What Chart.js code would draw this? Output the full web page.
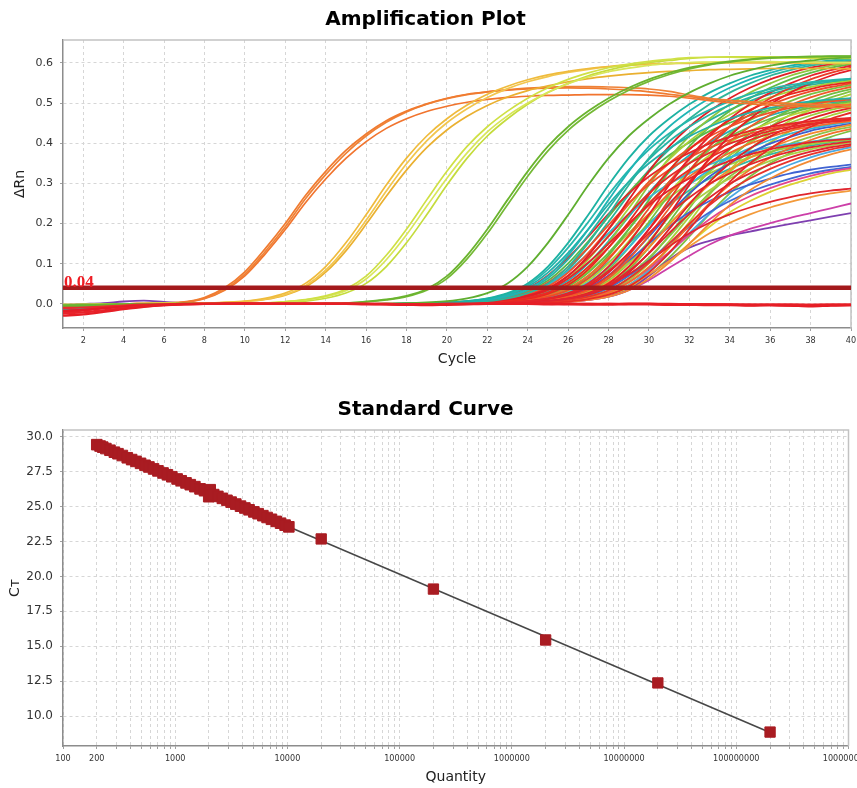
<!DOCTYPE html>
<html>
<head>
<meta charset="utf-8">
<title>Amplification Plot / Standard Curve</title>
<script src="https://cdn.jsdelivr.net/npm/chart.js@4.4.1/dist/chart.umd.min.js"></script>
<style>
  html, body { margin: 0; padding: 0; background: #ffffff; }
  #page { position: relative; width: 857px; height: 788px; overflow: hidden; background: #ffffff; }
  canvas { position: absolute; left: 0; }
  #amp { top: 0; }
  #std { top: 380px; }
</style>
</head>
<body>
<div id="page">
  <canvas id="amp" width="857" height="380"></canvas>
  <canvas id="std" width="857" height="408"></canvas>
</div>
<script>
// ================= Amplification plot =================
const CYCLES = [1,2,3,4,5,6,7,8,9,10,11,12,13,14,15,16,17,18,19,20,21,22,23,24,25,26,27,28,29,30,31,32,33,34,35,36,37,38,39,40];
const CYCLE_TICKS = [2,4,6,8,10,12,14,16,18,20,22,24,26,28,30,32,34,36,38,40];
const DRN_TICKS = [0,0.1,0.2,0.3,0.4,0.5,0.6];
const THRESHOLD = 0.04;

// Standards (delta Rn per cycle)
const ORANGE_A = [-.004,-.004,-.002,0,.001,.002,.005,.016,.040,.080, .137,.200,.270,.330,.382,.423,.456,.480,.498,.512, .522,.528,.532,.535,.537,.538,.537,.535,.532,.528, .522,.516,.510,.506,.503,.500,.498,.496,.495,.494];
const ORANGE_B = [-.003,-.003,-.002,0,.001,.002,.004,.014,.036,.074, .130,.192,.262,.322,.375,.418,.452,.478,.497,.511, .521,.528,.533,.537,.540,.541,.541,.540,.538,.535, .529,.520,.512,.507,.503,.501,.499,.497,.496,.495];
const ORANGE_C = [-.005,-.004,-.002,0,.001,.002,.004,.013,.034,.070, .124,.185,.252,.311,.362,.404,.437,.461,.479,.492, .502,.509,.514,.517,.519,.520,.521,.521,.521,.520, .517,.512,.506,.501,.498,.495,.493,.491,.490,.489];
const GOLD_A = [-.003,-.003,-.002,0,.001,.001,.001,.002,.004,.007, .014,.027,.051,.093,.152,.222,.296,.363,.418,.461, .495,.522,.542,.558,.570,.579,.586,.591,.595,.597, .598,.599,.600,.600,.600,.600,.600,.599,.599,.599];
const GOLD_B = [-.002,-.002,-.001,0,.001,.001,.001,.002,.003,.006, .012,.023,.045,.084,.140,.208,.281,.349,.406,.451, .486,.514,.536,.553,.566,.576,.584,.590,.594,.597, .599,.600,.601,.602,.602,.602,.602,.602,.601,.601];
const GOLD_C = [-.004,-.003,-.002,0,0,.001,.001,.002,.003,.006, .011,.022,.042,.079,.132,.198,.268,.333,.389,.433, .467,.494,.515,.531,.543,.553,.561,.567,.572,.576, .579,.581,.583,.584,.585,.586,.586,.586,.586,.585];
const LIME_A = [-.002,-.002,-.001,0,0,.001,.001,0,.001,.001, .002,.006,.011,.020,.037,.069,.121,.186,.259,.330, .392,.441,.480,.512,.538,.559,.575,.588,.597,.604, .609,.613,.614,.614,.613,.613,.612,.612,.611,.611];
const LIME_B = [-.003,-.002,-.001,0,0,.001,0,0,.001,.001, .002,.005,.010,.018,.033,.062,.110,.172,.243,.313, .376,.428,.468,.500,.527,.548,.565,.578,.587,.594, .598,.601,.602,.603,.603,.603,.602,.602,.601,.601];
const LIME_C = [-.002,-.001,-.001,0,.001,.001,.001,0,0,.001, .002,.004,.007,.014,.027,.051,.093,.152,.222,.296, .363,.418,.461,.497,.526,.549,.568,.582,.593,.601, .606,.611,.614,.615,.615,.615,.614,.614,.613,.613];
const GREEN_A = [-.004,-.003,-.002,-.001,0,0,.001,0,0,0, .001,0,0,.001,.002,.006,.011,.020,.037,.069, .121,.186,.259,.330,.392,.441,.480,.512,.538,.559, .575,.588,.597,.604,.609,.613,.615,.616,.617,.617];
const GREEN_B = [-.003,-.002,-.002,-.001,0,0,0,.001,0,0, 0,.001,0,.001,.002,.005,.010,.018,.034,.063, .112,.175,.247,.318,.381,.432,.472,.505,.532,.554, .571,.585,.595,.602,.608,.612,.614,.615,.616,.616];
const GREEN_C = [-.005,-.004,-.002,-.001,0,0,0,0,.001,0, 0,0,.001,0,0,0,.001,.002,.004,.007, .014,.027,.051,.093,.152,.222,.296,.363,.418,.461, .497,.526,.549,.568,.582,.593,.601,.606,.611,.614];

// Sample wells
const WELL_01 = [-.010,-.007,-.004,-.002,-.001,0,0,0,0,0, 0,0,0,0,0,0,0,.001,.002,.004, .007,.014,.027,.051,.093,.152,.222,.296,.363,.418, .461,.497,.526,.549,.568,.582,.593,.601,.606,.611];
const WELL_02 = [-.008,-.005,-.003,-.001,0,0,0,0,0,0, 0,0,0,0,0,0,0,0,.001,.002, .006,.011,.020,.037,.069,.121,.186,.259,.330,.392, .441,.480,.512,.538,.559,.575,.588,.597,.604,.609];
const WELL_03 = [-.014,-.010,-.006,-.003,-.001,0,0,0,0,0, 0,0,0,0,0,0,0,0,.001,.002, .005,.010,.018,.034,.064,.111,.171,.238,.304,.360, .405,.441,.471,.495,.514,.529,.540,.549,.555,.560];
const WELL_04 = [-.006,-.004,-.002,-.001,0,0,0,0,0,0, 0,0,0,0,0,0,0,0,.001,.002, .004,.007,.014,.027,.051,.093,.152,.222,.296,.363, .418,.461,.497,.526,.549,.568,.582,.593,.601,.606];
const WELL_05 = [-.003,-.002,-.001,0,0,0,0,0,0,0, 0,0,0,0,0,0,0,0,.001,.002, .003,.007,.013,.025,.047,.086,.140,.204,.272,.333, .384,.424,.457,.483,.505,.522,.535,.545,.552,.557];
const WELL_06 = [-.014,-.010,-.006,-.003,-.001,0,0,0,0,0, 0,0,0,0,0,0,0,0,.001,.002, .003,.006,.012,.023,.043,.078,.127,.186,.248,.304, .350,.387,.417,.441,.461,.476,.488,.497,.504,.509];
const WELL_07 = [-.018,-.013,-.008,-.004,-.002,-.001,0,0,0,0, 0,0,0,0,0,0,0,0,0,.001, .002,.006,.011,.020,.037,.069,.121,.186,.259,.330, .392,.441,.480,.512,.538,.559,.575,.588,.597,.604];
const WELL_08 = [-.005,-.003,-.002,-.001,0,0,0,0,0,0, 0,0,0,0,0,0,0,0,0,.001, .002,.005,.010,.018,.034,.064,.111,.171,.238,.304, .360,.405,.441,.471,.495,.514,.529,.540,.549,.555];
const WELL_09 = [-.005,-.003,-.002,-.001,0,0,0,0,0,0, 0,0,0,0,0,0,0,0,0,.001, .002,.005,.009,.017,.031,.058,.101,.156,.217,.277, .329,.370,.402,.430,.451,.469,.483,.493,.501,.506];
const WELL_10 = [-.012,-.008,-.005,-.002,-.001,0,0,0,0,0, 0,0,0,0,0,0,0,0,0,.001, .002,.004,.008,.015,.028,.053,.092,.141,.196,.251, .297,.334,.364,.388,.408,.424,.436,.446,.453,.458];
const WELL_11 = [-.005,-.003,-.002,-.001,0,0,0,0,0,0, 0,0,0,0,0,0,0,0,0,.001, .002,.004,.007,.014,.027,.051,.093,.152,.222,.296, .363,.418,.461,.497,.526,.549,.568,.582,.593,.601];
const WELL_12 = [-.018,-.013,-.008,-.004,-.002,-.001,0,0,0,0, 0,0,0,0,0,0,0,0,0,.001, .002,.003,.007,.013,.025,.047,.086,.140,.204,.272, .333,.384,.424,.457,.483,.505,.522,.535,.545,.552];
const WELL_13 = [-.005,-.003,-.002,-.001,0,0,0,0,0,0, 0,0,0,0,0,0,0,0,0,.001, .002,.003,.006,.012,.023,.043,.078,.127,.186,.248, .304,.350,.387,.417,.441,.461,.476,.488,.497,.504];
const WELL_14 = [-.012,-.008,-.005,-.002,-.001,0,0,0,0,0, 0,0,0,0,0,0,0,0,0,.001, .001,.003,.006,.011,.021,.039,.071,.115,.168,.224, .275,.317,.350,.376,.399,.416,.431,.441,.449,.455];
const WELL_15 = [-.012,-.008,-.005,-.002,-.001,0,0,0,0,0, 0,0,0,0,0,0,0,0,0,0, .001,.002,.005,.010,.018,.034,.064,.111,.171,.238, .304,.360,.405,.441,.471,.495,.514,.529,.540,.549];
const WELL_16 = [-.005,-.003,-.002,-.001,0,0,0,0,0,0, 0,0,0,0,0,0,0,0,0,0, .001,.002,.005,.009,.017,.031,.058,.101,.156,.217, .277,.329,.370,.402,.430,.451,.469,.483,.493,.501];
const WELL_17 = [-.005,-.003,-.002,-.001,0,0,0,0,0,0, 0,0,0,0,0,0,0,0,0,0, .001,.002,.004,.008,.015,.028,.053,.092,.141,.196, .251,.297,.334,.364,.388,.408,.424,.436,.446,.453];
const WELL_18 = [-.020,-.015,-.009,-.005,-.002,-.001,0,0,0,0, 0,0,0,0,0,0,0,0,0,0, .001,.002,.004,.007,.013,.025,.047,.082,.126,.176, .224,.265,.299,.325,.347,.365,.379,.390,.398,.404];
const WELL_19 = [-.005,-.003,-.002,-.001,0,0,0,0,0,0, 0,0,0,0,0,0,0,0,0,0, .001,.002,.003,.007,.013,.025,.047,.086,.140,.204, .272,.333,.384,.424,.457,.483,.505,.522,.535,.545];
const WELL_20 = [-.012,-.008,-.005,-.002,-.001,0,0,0,0,0, 0,0,0,0,0,0,0,0,0,0, .001,.002,.003,.006,.012,.023,.043,.078,.127,.186, .248,.304,.350,.387,.417,.441,.461,.476,.488,.497];
const WELL_21 = [-.005,-.003,-.002,-.001,0,0,0,0,0,0, 0,0,0,0,0,0,0,0,0,0, .001,.001,.003,.006,.011,.021,.039,.071,.115,.168, .224,.275,.317,.350,.376,.399,.416,.431,.441,.449];
const WELL_22 = [-.005,-.003,-.002,-.001,0,0,0,0,0,0, 0,0,0,0,0,0,0,0,0,0, .001,.001,.003,.005,.010,.018,.034,.063,.103,.150, .200,.246,.283,.312,.336,.356,.372,.385,.394,.402];
const WELL_23 = [-.004,-.003,-.002,-.001,0,0,0,0,0,0, 0,0,0,0,0,0,0,0,0,0, 0,.001,.002,.005,.009,.017,.031,.058,.101,.156, .217,.277,.329,.370,.402,.430,.451,.469,.483,.493];
const WELL_24 = [-.012,-.008,-.005,-.002,-.001,0,0,0,0,0, 0,0,0,0,0,0,0,0,0,0, 0,.001,.002,.004,.008,.015,.028,.053,.092,.141, .196,.251,.297,.334,.364,.388,.408,.424,.436,.446];
const WELL_25 = [-.022,-.016,-.010,-.005,-.002,-.001,0,0,0,0, 0,0,0,0,0,0,0,0,0,0, 0,.001,.002,.004,.007,.013,.025,.047,.082,.126, .176,.224,.265,.299,.325,.347,.365,.379,.390,.398];
const WELL_26 = [-.004,-.003,-.002,-.001,0,0,0,0,0,0, 0,0,0,0,0,0,0,0,0,0, 0,.001,.001,.003,.006,.012,.022,.040,.070,.108, .150,.192,.228,.256,.279,.297,.312,.325,.334,.341];
const WELL_27 = [-.012,-.008,-.005,-.002,-.001,0,0,0,0,0, 0,0,0,0,0,0,0,0,0,0, 0,.001,.001,.003,.006,.011,.021,.039,.071,.115, .168,.224,.275,.317,.350,.376,.399,.416,.431,.441];
const WELL_28 = [-.022,-.016,-.010,-.005,-.002,-.001,0,0,0,0, 0,0,0,0,0,0,0,0,0,0, 0,.001,.001,.003,.005,.010,.018,.034,.063,.103, .150,.200,.246,.283,.312,.336,.356,.372,.385,.394];
const WELL_29 = [-.004,-.003,-.002,-.001,0,0,0,0,0,0, 0,0,0,0,0,0,0,0,0,0, 0,.001,.001,.002,.004,.008,.016,.030,.054,.088, .129,.172,.211,.243,.268,.288,.305,.319,.330,.338];
const WELL_30 = [-.012,-.008,-.005,-.002,-.001,0,0,0,0,0, 0,0,0,0,0,0,0,0,0,0, 0,.001,.001,.002,.004,.007,.013,.025,.045,.074, .107,.143,.176,.202,.223,.240,.254,.266,.275,.282];
const WELL_31 = [-.002,0,.002,.006,.008,.005,.002,.001,0,0, 0,0,0,0,0,0,0,0,0,0, 0,.001,.001,.002,.004,.006,.010,.018,.035,.070, .110,.140,.157,.170,.180,.190,.199,.208,.217,.226];
const WELL_32 = [-.004,-.003,-.002,-.001,0,0,0,0,0,0, 0,0,0,0,0,0,0,0,0,0, 0,0,.001,.001,.003,.006,.012,.022,.040,.070, .108,.150,.192,.228,.256,.279,.297,.312,.325,.334];
const WELL_33 = [-.010,-.007,-.004,-.002,-.001,0,0,0,0,0, 0,0,0,0,0,0,0,0,0,0, 0,0,.001,.001,.003,.005,.010,.018,.034,.059, .090,.120,.148,.170,.187,.201,.214,.226,.238,.250];
const WELL_34 = [-.004,-.003,-.002,-.001,0,0,0,0,0,0, 0,0,0,0,0,0,0,0,0,0, 0,0,.001,.002,.004,.007,.013,.025,.047,.082, .126,.176,.224,.265,.299,.325,.347,.365,.379,.390];
const WELL_35 = [-.020,-.015,-.009,-.005,-.002,-.001,0,0,0,0, 0,0,0,0,0,0,0,0,0,0, .001,.001,.002,.004,.007,.013,.025,.045,.074,.107, .143,.176,.202,.223,.240,.254,.266,.275,.282,.287];
const WELL_36 = [-.005,-.003,-.002,-.001,0,0,0,0,0,0, 0,0,0,0,0,0,0,0,0,0, .001,.002,.006,.011,.020,.037,.069,.121,.186,.259, .330,.392,.441,.480,.512,.538,.559,.575,.588,.597];
const WELL_37 = [-.020,-.015,-.009,-.005,-.002,-.001,0,0,0,0, 0,0,0,0,0,0,0,0,0,0, .001,.002,.004,.007,.014,.027,.051,.093,.152,.222, .296,.363,.418,.461,.497,.526,.549,.568,.582,.593];
const WELL_38 = [-.006,-.004,-.002,-.001,0,0,0,0,0,0, 0,0,0,0,0,0,0,.001,.002,.003, .007,.013,.025,.047,.086,.140,.204,.272,.333,.384, .424,.457,.483,.505,.522,.535,.545,.552,.557,.561];
const WELL_39 = [-.022,-.016,-.010,-.005,-.002,-.001,0,0,0,0, 0,0,0,0,0,0,0,0,0,0, 0,.001,.002,.005,.010,.018,.034,.064,.111,.171, .238,.304,.360,.405,.441,.471,.495,.514,.529,.540];
const WELL_40 = [-.008,-.005,-.003,-.001,0,0,0,0,0,0, 0,0,0,0,0,0,0,0,.001,.001, .003,.006,.011,.021,.039,.071,.115,.168,.224,.275, .317,.350,.376,.399,.416,.431,.441,.449,.455,.460];
const WELL_41 = [-.007,-.005,-.003,-.001,0,0,0,0,0,0, 0,0,0,0,0,0,0,.001,.002,.003, .006,.012,.023,.043,.078,.127,.186,.248,.304,.350, .387,.417,.441,.461,.476,.488,.497,.504,.509,.512];
const WELL_42 = [-.012,-.008,-.005,-.002,-.001,0,0,0,0,0, 0,0,0,0,0,0,0,.001,.001,.003, .006,.011,.021,.039,.071,.115,.168,.224,.275,.317, .350,.376,.399,.416,.431,.441,.449,.455,.460,.463];
const WELL_43 = [-.005,-.003,-.002,-.001,0,0,0,0,0,0, 0,0,0,0,0,0,0,0,.001,.002, .005,.009,.017,.031,.058,.101,.156,.217,.277,.329, .370,.402,.430,.451,.469,.483,.493,.501,.506,.511];
const WELL_44 = [-.016,-.012,-.007,-.003,-.001,0,0,0,0,0, 0,0,0,0,0,0,0,0,.001,.002, .004,.008,.015,.028,.053,.092,.141,.196,.251,.297, .334,.364,.388,.408,.424,.436,.446,.453,.458,.462];
const WELL_45 = [-.010,-.007,-.004,-.002,-.001,0,0,0,0,0, 0,0,0,0,0,0,0,0,.001,.001, .003,.005,.010,.018,.034,.063,.103,.150,.200,.246, .283,.312,.336,.356,.372,.385,.394,.402,.407,.411];
const WELL_46 = [-.005,-.003,-.002,-.001,0,0,0,0,0,0, 0,0,0,0,0,0,0,0,0,.001, .002,.004,.007,.013,.025,.047,.082,.126,.176,.224, .265,.299,.325,.347,.365,.379,.390,.398,.404,.409];
const WELL_47 = [-.006,-.004,-.002,-.001,0,0,0,0,0,0, 0,0,0,0,0,0,0,0,0,0, 0,0,.001,.002,.003,.006,.012,.023,.043,.078, .127,.186,.248,.304,.350,.387,.417,.441,.461,.476];
const WELL_48 = [-.010,-.007,-.004,-.002,-.001,0,0,0,0,0, 0,0,0,0,0,0,0,0,0,.001, .001,.003,.005,.010,.018,.034,.063,.103,.150,.200, .246,.283,.312,.336,.356,.372,.385,.394,.402,.407];
const WELL_49 = [-.004,-.003,-.002,-.001,0,0,0,0,0,0, 0,0,0,0,0,0,0,0,0,0, 0,0,.001,.002,.005,.010,.018,.034,.064,.111, .171,.238,.304,.360,.405,.441,.471,.495,.514,.529];
const WELL_50 = [-.005,-.003,-.002,-.001,0,0,0,0,0,0, 0,0,0,0,0,0,0,0,0,0, .001,.001,.003,.006,.012,.022,.040,.070,.108,.150, .192,.228,.256,.279,.297,.312,.325,.334,.341,.347];
const WELL_51 = [-.012,-.008,-.005,-.002,-.001,0,0,0,0,0, 0,0,0,0,0,0,0,0,0,0, 0,0,.001,.002,.003,.007,.013,.025,.047,.086, .140,.204,.272,.333,.384,.424,.457,.483,.505,.522];
const WELL_52 = [-.008,-.005,-.003,-.001,0,0,0,0,0,0, 0,0,0,0,0,0,0,0,0,0, 0,.001,.002,.004,.007,.014,.027,.051,.093,.152, .222,.296,.363,.418,.461,.497,.526,.549,.568,.582];
const WELL_53 = [-.014,-.010,-.006,-.003,-.001,0,0,0,0,0, 0,0,0,0,0,0,0,0,0,0, 0,.001,.002,.006,.011,.020,.037,.069,.121,.186, .259,.330,.392,.441,.480,.512,.538,.559,.575,.588];
const WELL_54 = [-.005,-.003,-.002,-.001,0,0,0,0,0,0, 0,0,0,0,0,0,0,0,0,0, 0,.001,.002,.003,.007,.013,.025,.047,.086,.140, .204,.272,.333,.384,.424,.457,.483,.505,.522,.535];
const WELL_55 = [-.016,-.012,-.007,-.003,-.001,0,0,0,0,0, 0,0,0,0,0,0,0,0,0,0, 0,.001,.002,.003,.006,.012,.023,.043,.078,.127, .186,.248,.304,.350,.387,.417,.441,.461,.476,.488];
const WELL_56 = [-.005,-.003,-.002,-.001,0,0,0,0,0,0, 0,0,0,0,0,0,0,0,0,0, 0,0,.001,.002,.005,.009,.017,.031,.058,.101, .156,.217,.277,.329,.370,.402,.430,.451,.469,.483];
const WELL_57 = [-.012,-.008,-.005,-.002,-.001,0,0,0,0,0, 0,0,0,0,0,0,0,0,0,0, 0,0,.001,.002,.004,.008,.015,.028,.053,.092, .141,.196,.251,.297,.334,.364,.388,.408,.424,.436];
const WELL_58 = [-.005,-.003,-.002,-.001,0,0,0,0,0,0, 0,0,0,0,0,0,0,0,0,0, 0,0,.001,.001,.003,.006,.011,.021,.039,.071, .115,.168,.224,.275,.317,.350,.376,.399,.416,.431];
const WELL_59 = [-.010,-.007,-.004,-.002,-.001,0,0,0,0,0, 0,0,0,0,0,0,0,0,0,0, 0,0,.001,.001,.003,.005,.010,.018,.034,.063, .103,.150,.200,.246,.283,.312,.336,.356,.372,.385];
const WELL_60 = [-.006,-.004,-.002,-.001,0,0,0,0,0,0, 0,0,0,0,0,0,0,0,.001,.002, .004,.007,.013,.025,.047,.082,.126,.176,.224,.265, .299,.325,.347,.365,.379,.390,.398,.404,.409,.412];

// No-template controls
const NTC_1 = [-.029,-.026,-.020,-.013,-.007,-.003,-.001,0,.001,.001, 0,.001,0,.001,0,0,-.001,-.002,-.003,-.002, -.001,0,0,.001,0,0,-.001,-.001,0,0, -.001,-.002,-.003,-.003,-.004,-.003,-.004,-.005,-.003,-.003];
const NTC_2 = [-.023,-.021,-.016,-.011,-.006,-.003,-.001,0,0,.001, .001,0,0,0,.001,0,0,-.001,-.001,0, 0,.001,0,0,-.001,0,0,0,-.001,-.001, -.002,-.002,-.001,-.002,-.003,-.002,-.002,-.003,-.002,-.002];
const NTC_3 = [-.017,-.015,-.011,-.007,-.004,-.002,0,0,0,0, 0,0,.001,0,0,-.001,-.001,-.002,-.002,-.001, 0,0,0,0,0,-.001,-.001,0,0,0, -.001,-.001,-.002,-.002,-.002,-.003,-.004,-.006,-.004,-.003];
const NTC_4 = [-.010,-.009,-.007,-.004,-.002,-.001,0,0,0,0, 0,0,0,0,0,0,0,-.001,-.001,0, 0,0,0,0,0,0,0,-.001,0,0, 0,-.001,-.001,-.001,-.002,-.002,-.002,-.002,-.002,-.002];

// Trace list in drawing order (first entry ends up on top): [values, colour, line width]
const W = 1.8;
const AMP_TRACES = [
  [NTC_1, '#e61e26', 2.4], [NTC_2, '#e8222a', 2.4], [NTC_3, '#e41c27', 2.4], [NTC_4, '#ea2a2e', 2.2],
  [GREEN_A, '#6ab42e', 1.8], [GREEN_B, '#74b935', 1.7], [GREEN_C, '#5fae30', 1.8],
  [LIME_A, '#cfe045', 1.7], [LIME_B, '#d8e65a', 1.7], [LIME_C, '#c5dc3c', 1.7],
  [GOLD_A, '#efbb3c', 1.7], [GOLD_B, '#f2c64e', 1.7], [GOLD_C, '#eab030', 1.7],
  [ORANGE_A, '#f07b30', 1.7], [ORANGE_B, '#ef8236', 1.7], [ORANGE_C, '#f1742e', 1.7],
  [WELL_01, '#1db2a3', W], [WELL_02, '#20b5b5', W], [WELL_03, '#26b3a6', W], [WELL_38, '#27b7ad', W],
  [WELL_41, '#22b0a8', W], [WELL_04, '#2db59a', W],
  [WELL_07, '#e01f26', W], [WELL_10, '#ea2a25', W], [WELL_12, '#e8281e', W],
  [WELL_18, '#e3262b', W], [WELL_20, '#e41f2a', W], [WELL_25, '#df2530', W], [WELL_28, '#e8342a', W],
  [WELL_35, '#e0262e', W], [WELL_37, '#e6232b', W], [WELL_40, '#e42a2a', W], [WELL_42, '#e52529', W],
  [WELL_45, '#e3222c', W], [WELL_47, '#e62a27', W], [WELL_52, '#e41d26', W], [WELL_55, '#df2228', W],
  [WELL_06, '#f0522a', W], [WELL_15, '#ee4b28', W], [WELL_39, '#ef5a2a', W], [WELL_14, '#f26b2a', W],
  [WELL_44, '#f04e2b', W], [WELL_53, '#ea3b26', W], [WELL_57, '#f3702b', W],
  [WELL_24, '#f58a2c', W], [WELL_30, '#f39a3a', W], [WELL_59, '#f28a33', W],
  [WELL_29, '#e2458f', W], [WELL_33, '#cc3fa8', W], [WELL_31, '#7e3fb0', W], [WELL_21, '#3d5fcf', W],
  [WELL_26, '#4169d4', W], [WELL_50, '#3f63d2', W], [WELL_34, '#4aa8e2', W], [WELL_17, '#33b7d9', W],
  [WELL_60, '#3ab4cf', W],
  [WELL_08, '#a5cf3a', W], [WELL_11, '#8dc63f', W], [WELL_13, '#6cbd45', W],
  [WELL_16, '#b5d335', W], [WELL_19, '#79c043', W], [WELL_22, '#a9d046', W], [WELL_23, '#9acb3c', W],
  [WELL_27, '#8bc34a', W], [WELL_36, '#5fba46', W], [WELL_32, '#dcd232', W], [WELL_43, '#58b947', W],
  [WELL_46, '#a2cd3d', W], [WELL_49, '#83c242', W], [WELL_51, '#b1d33d', W], [WELL_54, '#6fbe44', W],
  [WELL_56, '#a6cf3b', W], [WELL_58, '#7dbf41', W],
  [WELL_05, '#2ab39a', W], [WELL_09, '#25aeb5', W], [WELL_48, '#2fb7a4', W]
];

// ================= Standard curve =================
const STD_QTY = [20000, 200000, 2000000, 20000000, 200000000];
const STD_CT = [22.69, 19.10, 15.45, 12.37, 8.85];
const UNK_QTY = [200,214,226,241,262,287,309,338,374,409,447,491,538,583,641,702,779,852,933,1040,1131,1248,1362,1497,1664,1824,1990,2050,2110,2204,2398,2631,2890,3150,3466,3819,4176,4552,5023,5484,6041,6588,7203,7944,8687,9533,10290];
const UNK_CT = [29.45,29.35,29.27,29.17,29.05,28.91,28.80,28.67,28.51,28.38,28.25,28.11,27.97,27.85,27.71,27.57,27.42,27.29,27.15,26.99,26.86,26.71,26.58,26.44,26.28,26.15,25.72,26.22,25.80,25.87,25.74,25.60,25.46,25.33,25.19,25.04,24.91,24.78,24.63,24.50,24.36,24.23,24.10,23.95,23.82,23.68,23.56];
const FIT_QTY = [200, 200000000];
const FIT_CT = [29.45, 8.81];
const QTY_LABELS = [100, 200, 1000, 10000, 100000, 1000000, 10000000, 100000000, 1000000000];
const CT_TICKS = [10, 12.5, 15, 17.5, 20, 22.5, 25, 27.5, 30];

// ================= Shared styling =================
const SANS = '"DejaVu Sans", Verdana, sans-serif';
const NARROW = '"DejaVu Sans Condensed", "DejaVu Sans", sans-serif';
const GRID = { color: '#d6d6d6', lineWidth: 1, tickLength: 3, tickColor: '#a0a0a0', drawTicks: true };
const AXIS_BORDER = { display: true, color: '#8c8c8c', width: 1.5, dash: [3, 3] };

// light frame on the top and right edge of the plotting area
const plotFrame = {
  id: 'plotFrame',
  beforeDatasetsDraw(chart) {
    const { ctx, chartArea: a } = chart;
    ctx.save();
    ctx.strokeStyle = '#c2c2c2';
    ctx.lineWidth = 1.5;
    ctx.beginPath();
    ctx.moveTo(a.left, a.top);
    ctx.lineTo(a.right, a.top);
    ctx.lineTo(a.right, a.bottom);
    ctx.stroke();
    ctx.restore();
  }
};

// threshold value written above the threshold line
const thresholdLabel = {
  id: 'thresholdLabel',
  afterDatasetsDraw(chart) {
    const { ctx, chartArea: a, scales } = chart;
    const y = scales.y.getPixelForValue(THRESHOLD);
    ctx.save();
    ctx.font = 'bold 17px "Liberation Serif", "DejaVu Serif", serif';
    ctx.fillStyle = '#ee1d24';
    ctx.textAlign = 'left';
    ctx.textBaseline = 'alphabetic';
    ctx.fillText(THRESHOLD.toFixed(2), a.left + 1, y - 1);
    ctx.restore();
  }
};

function fixWidth(w) {
  return s => { s.width = w; s.paddingTop = 0; s.paddingBottom = 0; };
}
function fixHeight(h) {
  return s => { s.height = h; s.paddingLeft = 0; s.paddingRight = 0; };
}

// ---------- amplification chart ----------
const ampDatasets = [{
  data: [{ x: CYCLES[0], y: THRESHOLD }, { x: CYCLES[CYCLES.length - 1], y: THRESHOLD }],
  borderColor: '#a3191c',
  borderWidth: 4.5,
  pointRadius: 0
}].concat(AMP_TRACES.map(([vals, color, w]) => ({
  data: vals.map((v, i) => ({ x: CYCLES[i], y: v })),
  borderColor: color,
  borderWidth: w,
  pointRadius: 0,
  fill: false,
  cubicInterpolationMode: 'monotone'
})));

new Chart(document.getElementById('amp'), {
  type: 'line',
  data: { datasets: ampDatasets },
  options: {
    responsive: false,
    animation: false,
    devicePixelRatio: 1,
    layout: { padding: { left: 0, right: 6, top: 0, bottom: 0 } },
    plugins: {
      legend: { display: false },
      tooltip: { enabled: false },
      title: {
        display: true,
        text: 'Amplification Plot',
        color: '#000000',
        font: { family: SANS, size: 20, weight: 'bold', lineHeight: 1.2 },
        padding: { top: 8, bottom: 8 }
      }
    },
    scales: {
      x: {
        type: 'linear',
        min: 1,
        max: 40,
        afterBuildTicks: s => { s.ticks = CYCLE_TICKS.map(v => ({ value: v })); },
        afterFit: fixHeight(52),
        ticks: { autoSkip: false, maxRotation: 0, minRotation: 0, padding: 4, color: '#333333',
                 font: { family: NARROW, size: 9 }, callback: v => String(v) },
        grid: GRID,
        border: AXIS_BORDER,
        title: { display: true, text: 'Cycle', color: '#222222',
                 font: { family: SANS, size: 14 }, padding: { top: 0, bottom: 12 } }
      },
      y: {
        min: -0.06,
        max: 0.657,
        afterBuildTicks: s => { s.ticks = DRN_TICKS.map(v => ({ value: v })); },
        afterFit: fixWidth(63),
        ticks: { padding: 7, color: '#333333', font: { family: SANS, size: 11 },
                 callback: v => Number(v).toFixed(1) },
        grid: GRID,
        border: AXIS_BORDER,
        title: { display: true, text: 'ΔRn', color: '#222222',
                 font: { family: SANS, size: 14 }, padding: { top: 12, bottom: 0 } }
      }
    }
  },
  plugins: [plotFrame, thresholdLabel]
});

// ---------- standard curve chart ----------
const qtyGrid = [];
for (let p = 100; p < 1000000000; p *= 10) {
  for (let k = 1; k <= 9; k++) qtyGrid.push(k * p);
}
qtyGrid.push(1000000000);

const MARK = '#a91c22';
new Chart(document.getElementById('std'), {
  type: 'scatter',
  data: {
    datasets: [
      {
        data: STD_QTY.map((q, i) => ({ x: q, y: STD_CT[i] })),
        pointStyle: 'rect', pointRadius: 7.3, backgroundColor: MARK, borderColor: MARK, borderWidth: 1
      },
      {
        data: UNK_QTY.map((q, i) => ({ x: q, y: UNK_CT[i] })),
        pointStyle: 'rect', pointRadius: 7.5, backgroundColor: MARK, borderColor: MARK, borderWidth: 1
      },
      {
        data: FIT_QTY.map((q, i) => ({ x: q, y: FIT_CT[i] })),
        showLine: true, pointRadius: 0, borderColor: '#474747', borderWidth: 1.6
      }
    ]
  },
  options: {
    responsive: false,
    animation: false,
    devicePixelRatio: 1,
    layout: { padding: { left: 0, right: 6, top: 0, bottom: 0 } },
    plugins: {
      legend: { display: false },
      tooltip: { enabled: false },
      title: {
        display: true,
        text: 'Standard Curve',
        color: '#000000',
        font: { family: SANS, size: 20, weight: 'bold', lineHeight: 1.2 },
        padding: { top: 18, bottom: 8 }
      }
    },
    scales: {
      x: {
        type: 'logarithmic',
        min: 100,
        max: 1000000000,
        afterBuildTicks: s => { s.ticks = qtyGrid.map(v => ({ value: v })); },
        afterFit: fixHeight(42),
        ticks: { autoSkip: false, maxRotation: 0, minRotation: 0, padding: 4, color: '#333333',
                 font: { family: NARROW, size: 9 },
                 callback: v => (QTY_LABELS.includes(v) ? String(v) : '') },
        grid: GRID,
        border: AXIS_BORDER,
        title: { display: true, text: 'Quantity', color: '#222222',
                 font: { family: SANS, size: 14 }, padding: { top: 0, bottom: 2 } }
      },
      y: {
        min: 7.85,
        max: 30.5,
        afterBuildTicks: s => { s.ticks = CT_TICKS.map(v => ({ value: v })); },
        afterFit: fixWidth(63),
        ticks: { padding: 7, color: '#333333', font: { family: SANS, size: 12 },
                 callback: v => Number(v).toFixed(1) },
        grid: GRID,
        border: AXIS_BORDER,
        title: { display: true, text: 'Cᴛ', color: '#222222',
                 font: { family: SANS, size: 14 }, padding: { top: 7, bottom: 0 } }
      }
    }
  },
  plugins: [plotFrame]
});
</script>
</body>
</html>
